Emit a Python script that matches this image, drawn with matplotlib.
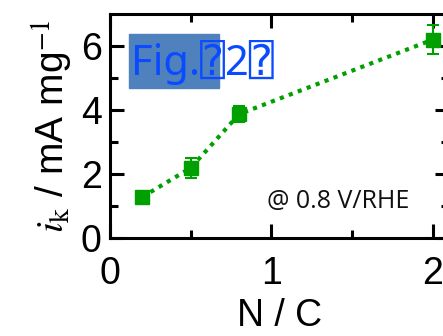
import matplotlib
matplotlib.use("Agg")
import matplotlib.pyplot as plt
from matplotlib.patches import Rectangle

# Data
nc_ratio = [0.2, 0.5, 0.8, 2.0]
ik_values = [1.28, 2.19, 3.87, 6.2]
ik_errors = [0.12, 0.3, 0.25, 0.45]
x_ticks = [0, 1, 2]
y_ticks = [0, 2, 4, 6]

plt.rcParams['mathtext.fontset'] = 'stix'
fig = plt.figure(figsize=(4.43, 3.36), dpi=100)
ax = fig.add_axes([110/443, (336-238)/336, (449-110)/443, (238-14)/336])

green = '#00A000'
ax.errorbar(nc_ratio, ik_values, yerr=ik_errors, color=green, marker='s',
            markersize=10, linestyle=(0, (1, 1.3)), linewidth=3,
            elinewidth=1.5, capsize=4, capthick=1.5, clip_on=False)

ax.set_xlim(0, 2.1)
ax.set_ylim(0, 7.0)
ax.set_xticks(x_ticks)
ax.set_yticks(y_ticks)
ax.set_xticks([0.5, 1.5], minor=True)
ax.set_yticks([1, 3, 5], minor=True)
for s in ax.spines.values():
    s.set_linewidth(2.2)
ax.tick_params(which='both', direction='in', top=True, right=True, width=2.2)
ax.tick_params(which='major', length=10)
ax.tick_params(which='minor', length=6)
ax.tick_params(axis='y', which='major', pad=6)
ax.tick_params(axis='x', which='major', pad=13)
for lab in ax.get_xticklabels() + ax.get_yticklabels():
    lab.set_fontfamily('Liberation Sans')
    lab.set_fontsize(27)

ax.set_xlabel('N / C', fontsize=27, family='Liberation Sans', labelpad=4)
ax.set_ylabel(r'$i_{\rm k}$ / mA mg$^{-1}$', fontsize=28, family='Liberation Sans', labelpad=4)

ax.text(0.975, 1.125, '@ 0.8 V/RHE', ha='left', va='center',
        fontsize=18, family='Open Sans', color='#111111')

fig.patches.append(Rectangle((129/443, 1-88/336), 90/443, 54/336,
                             transform=fig.transFigure, color='#4F81BD', zorder=5))
fig.text(131/443, 1-75/336, 'Fig.\u23702\u2370', fontsize=30,
         family=['Noto Sans', 'DejaVu Sans', 'DejaVu Sans Mono'],
         color='#0A4BFF', va='baseline', ha='left', zorder=6)

fig.savefig('out.png', dpi=100)
